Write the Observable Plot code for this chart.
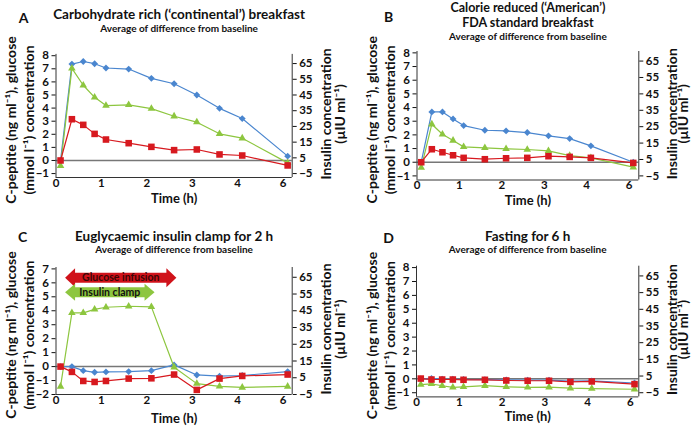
<!DOCTYPE html>
<html>
<head>
<meta charset="utf-8">
<script src="https://cdn.jsdelivr.net/npm/d3@7"></script>
<script src="https://cdn.jsdelivr.net/npm/@observablehq/plot@0.6"></script>
<style>
  html, body { margin: 0; padding: 0; background: #fff; }
  #wrap { position: relative; width: 691px; height: 426px; overflow: hidden; }
  .panel { position: absolute; }
</style>
</head>
<body>
<div id="wrap"></div>
<script>
// ---- data ----
const times = [0.1, 0.35, 0.6, 0.85, 1.1, 1.6, 2.1, 2.6, 3.1, 3.6, 4.1, 6.1];
const timeTicks = [0, 1, 2, 3, 4, 6];
const insulinTicks = [-5, 5, 15, 25, 35, 45, 55, 65];
const leftTicksABD = [-1, 0, 1, 2, 3, 4, 5, 6, 7, 8];
const leftTicksC = [-2, -1, 0, 1, 2, 3, 4, 5, 6, 7];

const glucoseA = [0, 7.36, 7.56, 7.39, 7.06, 6.98, 6.27, 5.86, 5.0, 3.98, 3.2, 0.33];
const cpeptideA = [0, 3.15, 2.72, 2.03, 1.6, 1.32, 1.04, 0.79, 0.84, 0.46, 0.38, -0.38];
const insulinA = [0, 61.9, 51.2, 43.5, 38.3, 38.7, 36.3, 31.5, 27.7, 20.3, 17.5, 1.8];

const glucoseB = [0, 3.68, 3.68, 3.17, 2.68, 2.34, 2.29, 2.17, 1.93, 1.73, 1.2, 0];
const cpeptideB = [0, 0.95, 0.73, 0.51, 0.32, 0.22, 0.29, 0.32, 0.44, 0.39, 0.32, -0.05];
const insulinB = [0, 26.5, 20.4, 16.6, 12.7, 12.1, 11.5, 11.1, 10.3, 7.4, 6.0, 0.3];

const glucoseC = [0, 0, -0.29, -0.41, -0.38, -0.36, -0.29, 0.12, -0.6, -0.69, -0.64, -0.36];
const cpeptideC = [0, -0.38, -1.03, -1.1, -1.03, -0.86, -0.84, -0.57, -1.67, -0.86, -0.67, -0.57];
const insulinC = [-0.2, 43.7, 43.7, 45.8, 47.1, 47.7, 47.3, 11.3, 1.5, -0.1, -0.8, -0.2];

const glucoseD = [0, 0.03, -0.02, -0.03, -0.05, -0.06, -0.08, -0.1, -0.1, -0.17, -0.15, -0.3];
const cpeptideD = [0.02, -0.05, -0.05, -0.05, -0.07, -0.07, -0.12, -0.14, -0.14, -0.22, -0.19, -0.38];
const insulinD = [-0.1, 0.3, -0.8, -1.8, -1.5, -0.8, -1.5, -1.8, -1.7, -2.3, -2.5, -2.9];

const arrowLabels = ["Glucose infusion", "Insulin clamp"];
const arrowStart = [0.2, 0.2];
const arrowEnd = [2.65, 2.17];
const arrowLevel = [6.36, 5.33];

const subtitle = "Average of difference from baseline";
const yLabel1 = "C-peptite (ng ml\u207B\u00B9), glucose";
const yLabel2 = "(mmol l\u207B\u00B9) concentration";
const rLabel1 = "Insulin concentration";
const rLabel2 = "(\u00B5IU ml\u207B\u00B9)";
const xLabel = "Time (h)";

// ---- styling ----
const BLUE = "#4a86cf", GREEN = "#8dc63f", RED = "#d7191f";
const FONT = "Lato, 'Open Sans', sans-serif";

// broken time axis: 6 h plotted one unit after 4 h + 1
const pos = t => (t > 4.5 ? t - 1 : t);
const unpos = p => (p > 4.5 ? p + 1 : p);
const fmt = v => (v < 0 ? "\u2212" + (-v) : String(v));

function headSymbol(dir, len, h) {
  return {
    draw(ctx) {
      ctx.moveTo(0, 0);
      ctx.lineTo(-dir * len, -h / 2);
      ctx.lineTo(-dir * len, h / 2);
      ctx.closePath();
    }
  };
}

const panels = [
  {left: 0, top: 0, letter: "A", titles: ["Carbohydrate rich (\u2018continental\u2019) breakfast"], titleY: [14.5], titleSize: 13.5, subY: 28, letterXY: [23, 18], titleDx: 5,
   glucose: glucoseA, cpeptide: cpeptideA, insulin: insulinA, lo: -1, ticks: leftTicksABD,
   ydom: [-1.3, 8.1], xmax: 5.2, m: {l: 55.5, r: 54.3, t: 53.9, b: 36}, xLabY: 198, rDx: 48},
  {left: 345, top: 0, letter: "B", titles: ["Calorie reduced (\u2018American\u2019)", "FDA standard breakfast"], titleY: [7.6, 22.6], titleSize: 12.5, subY: 36, letterXY: [43, 17], titleDx: 0,
   glucose: glucoseB, cpeptide: cpeptideB, insulin: insulinB, lo: -1, ticks: leftTicksABD,
   ydom: [-1.3, 8.1], xmax: 5.23, m: {l: 71.5, r: 52.7, t: 51, b: 33.5}, xLabY: 200, rDx: 45},
  {left: 0, top: 213, letter: "C", titles: ["Euglycaemic insulin clamp for 2 h"], titleY: [23], titleSize: 13.5, subY: 36, letterXY: [22, 24], titleDx: 0,
   glucose: glucoseC, cpeptide: cpeptideC, insulin: insulinC, lo: -2, ticks: leftTicksC,
   ydom: [-2, 7.1], xmax: 5.2, m: {l: 55.5, r: 54.3, t: 54, b: 32}, xLabY: 205, rDx: 48, arrows: true},
  {left: 345, top: 213, letter: "D", titles: ["Fasting for 6 h"], titleY: [23], titleSize: 13.5, subY: 36, letterXY: [43, 25], titleDx: 0,
   glucose: glucoseD, cpeptide: cpeptideD, insulin: insulinD, lo: -1, ticks: leftTicksABD,
   ydom: [-1.3, 8.1], xmax: 5.2, m: {l: 71, r: 52.7, t: 52.7, b: 29.6}, xLabY: 203, rDx: 45}
];

const wrap = document.getElementById("wrap");

for (const P of panels) {
  const W = 346, H = 213;
  const toU = v => P.lo + (v + 5) * 9 / 75;
  const fromU = u => Math.round((u - P.lo) * 75 / 9 - 5);
  const rows = times.map((t, i) => ({p: pos(t), g: P.glucose[i], c: P.cpeptide[i], ins: toU(P.insulin[i])}));

  const marks = [
    Plot.ruleY([0], {stroke: "#777", strokeWidth: 1.5}),
    Plot.ruleX([0], {stroke: "#333", strokeWidth: 1}),
    Plot.ruleX([P.xmax], {stroke: "#333", strokeWidth: 1}),
    Plot.ruleY([P.ydom[0]], {stroke: "#333", strokeWidth: 1}),
    Plot.axisY(P.ticks, {anchor: "left", tickSize: 4, tickPadding: 3, label: null, tickFormat: fmt}),
    Plot.axisY(insulinTicks.map(toU), {anchor: "right", tickSize: 4, tickPadding: 3, label: null, tickFormat: u => fmt(fromU(u))}),
    Plot.axisX(timeTicks.map(pos), {anchor: "bottom", tickSize: 0, tickPadding: 1, label: null, tickFormat: p => fmt(unpos(p))})
  ];

  if (P.arrows) {
    const arrows = arrowLabels.map((label, i) => ({label, start: pos(arrowStart[i]), end: pos(arrowEnd[i]), level: arrowLevel[i]}));
    const specs = [{fill: "#d0121a", text: "#3a0505", h: 19}, {fill: "#8dc63f", text: "#111", h: 17}];
    arrows.forEach((a, i) => {
      const s = specs[i];
      marks.push(
        Plot.ruleY([a], {y: "level", x1: "start", x2: "end", stroke: s.fill, strokeWidth: 10, insetLeft: 8, insetRight: 8}),
        Plot.dot([a], {x: "end", y: "level", symbol: headSymbol(1, 10, s.h), r: 4, fill: s.fill, stroke: "none"}),
        Plot.dot([a], {x: "start", y: "level", symbol: headSymbol(-1, 10, s.h), r: 4, fill: s.fill, stroke: "none"}),
        Plot.text([a], {x: d => (d.start + d.end) / 2, y: "level", text: "label", fill: s.text, fontSize: 10.5, fontWeight: "bold"})
      );
    });
  }

  marks.push(
    Plot.line(rows, {x: "p", y: "g", stroke: BLUE, strokeWidth: 1.2}),
    Plot.dot(rows, {x: "p", y: "g", symbol: d3.symbolDiamond2, r: 3.1, fill: BLUE, stroke: "none"}),
    Plot.line(rows, {x: "p", y: "ins", stroke: GREEN, strokeWidth: 1.2}),
    Plot.dot(rows, {x: "p", y: "ins", symbol: d3.symbolTriangle, r: 2.8, fill: GREEN, stroke: "none"}),
    Plot.line(rows, {x: "p", y: "c", stroke: RED, strokeWidth: 1.2}),
    Plot.dot(rows, {x: "p", y: "c", symbol: d3.symbolSquare, r: 3.7, fill: RED, stroke: "none"})
  );

  // titles and labels
  const T = {fontWeight: "bold", fill: "#111", lineAnchor: "middle"};
  P.titles.forEach((t, i) => {
    marks.push(Plot.text([t], {...T, frameAnchor: "top", text: d => d, dx: P.titleDx, dy: P.titleY[i] - P.m.t, fontSize: P.titleSize}));
  });
  marks.push(
    Plot.text([subtitle], {...T, frameAnchor: "top", text: d => d, dx: P.titleDx, dy: P.subY - P.m.t, fontSize: 10}),
    Plot.text([P.letter], {...T, frameAnchor: "top-left", text: d => d, dx: P.letterXY[0] - P.m.l, dy: P.letterXY[1] - P.m.t, fontSize: 14, textAnchor: "middle"}),
    Plot.text([yLabel1], {...T, frameAnchor: "left", text: d => d, rotate: -90, dx: -44, dy: 4, fontSize: 14, textAnchor: "middle"}),
    Plot.text([yLabel2], {...T, frameAnchor: "left", text: d => d, rotate: -90, dx: -26, dy: 4, fontSize: 14, textAnchor: "middle"}),
    Plot.text([rLabel1], {...T, frameAnchor: "right", text: d => d, rotate: -90, dx: 34, dy: -2, fontSize: 14, textAnchor: "middle"}),
    Plot.text([rLabel2], {...T, frameAnchor: "right", text: d => d, rotate: -90, dx: P.rDx, dy: -2, fontSize: 14, textAnchor: "middle"}),
    Plot.text([xLabel], {...T, frameAnchor: "bottom", text: d => d, dy: P.xLabY - (H - P.m.b), fontSize: 13})
  );

  const svg = Plot.plot({
    width: W, height: H,
    marginLeft: P.m.l, marginRight: P.m.r, marginTop: P.m.t, marginBottom: P.m.b,
    x: {domain: [0, P.xmax]},
    y: {domain: P.ydom},
    style: {fontFamily: FONT, fontSize: "11.5px", fontWeight: "bold", color: "#111", background: "transparent", overflow: "visible"},
    marks
  });
  const div = document.createElement("div");
  div.className = "panel";
  div.style.left = P.left + "px";
  div.style.top = P.top + "px";
  div.appendChild(svg);
  wrap.appendChild(div);
}
</script>
</body>
</html>
